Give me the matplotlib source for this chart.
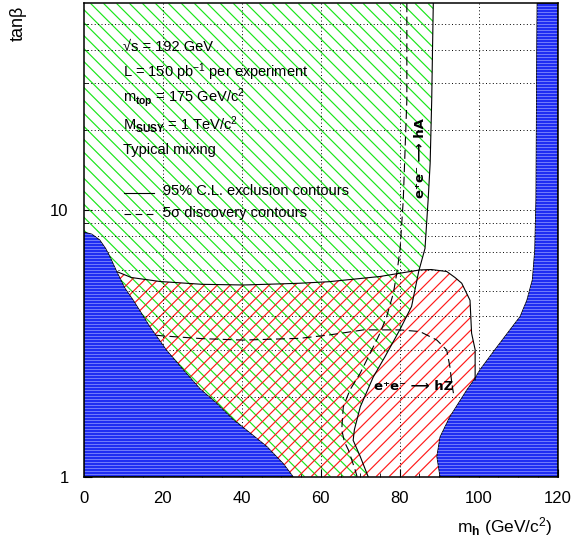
import numpy as np
import matplotlib
matplotlib.use("Agg")
import matplotlib.pyplot as plt
from matplotlib.patches import Polygon
from matplotlib.collections import LineCollection

plt.rcParams['font.family'] = ['Liberation Sans', 'DejaVu Sans']
plt.rcParams['mathtext.fontset'] = 'custom'
plt.rcParams['mathtext.rm'] = 'Liberation Sans'
plt.rcParams['mathtext.it'] = 'Liberation Sans:italic'
plt.rcParams['mathtext.bf'] = 'Liberation Sans:bold'
plt.rcParams['mathtext.sf'] = 'Liberation Sans'

# ---------------- data ----------------
# theoretically inaccessible region, left (blue)
blue_left_x = [0, 2, 4, 5.5, 6.6, 8.3, 10.4, 12.5, 16.7, 20.9, 25.2, 29.4, 33.6, 37.8, 42.1, 46.3, 50.5, 53.0]
blue_left_y = [8.3, 8.15, 7.75, 7.2, 6.7, 5.9, 5.1, 4.6, 3.66, 2.99, 2.52, 2.14, 1.89, 1.64, 1.46, 1.30, 1.12, 1.0]
# theoretically inaccessible region, right (blue), top -> bottom
blue_right_x = [114.8, 114.7, 114.6, 114.5, 114.2, 113.6, 112.2, 110.5, 107.9, 104.1, 100.3, 98.8, 97.0, 92.7, 90.2, 89.4, 90.2]
blue_right_y = [60, 40, 20, 11, 7.1, 5.5, 4.6, 4.0, 3.56, 3.0, 2.52, 2.31, 2.12, 1.68, 1.41, 1.19, 1.0]

# e+e- -> hA 95% CL exclusion contour (top -> bottom)
hA_excl_x = [88.5, 88.3, 88.1, 87.7, 87.2, 86.4, 84.8, 83.0, 80.0, 76.3, 73.3, 70.0, 68.5, 68.2, 70.0, 72.0]
hA_excl_y = [60, 40, 26, 15, 11, 7.2, 5.9, 4.36, 3.56, 2.83, 2.37, 1.83, 1.5, 1.37, 1.19, 1.0]
# e+e- -> hZ 95% CL exclusion contour (left -> right)
hZ_excl_x = [8.5, 12, 19.3, 30, 40.4, 49.7, 54.7, 62, 75, 85.1, 88.0, 91.9, 94.0, 95.7, 97.8, 98.2, 99.1, 99.1]
hZ_excl_y = [5.88, 5.6, 5.41, 5.28, 5.25, 5.3, 5.33, 5.4, 5.65, 5.98, 6.0, 5.9, 5.6, 5.33, 4.6, 3.46, 3.0, 2.31]

# 5 sigma discovery contours
hA_disc_x = [81.8, 81.8, 80.9, 80.1, 79.4, 78.4, 76.7, 75.0, 72.5, 70.0, 67.4, 65.7, 65.3, 66.0, 67.0, 68.7, 69.2]
hA_disc_y = [60, 26, 11, 7.2, 6.0, 4.9, 4.0, 3.46, 2.91, 2.45, 2.12, 1.83, 1.5, 1.35, 1.26, 1.06, 1.0]
hZ_disc_x = [18.3, 20, 30, 40.4, 54.7, 62.3, 70.8, 80.0, 85.1, 89.4, 91.9, 92.7, 93.2, 93.6]
hZ_disc_y = [3.4, 3.38, 3.3, 3.26, 3.31, 3.41, 3.56, 3.56, 3.51, 3.26, 2.99, 2.59, 2.24, 2.06]

x_ticks = [0, 20, 40, 60, 80, 100, 120]
y_ticks = [1, 10]
y_tick_labels = ['1', '10']
y_grid = [2, 3, 4, 5, 6, 7, 8, 9, 10, 20, 30, 40, 50]
x_grid = [20, 40, 60, 80, 100]

XMIN, XMAX, YMIN, YMAX = 0, 120, 1, 60

# ---------------- figure ----------------
fig = plt.figure(figsize=(5.75, 5.44), dpi=100)
ax = fig.add_axes([0.146, 0.1237, 0.8238, 0.8702])
ax.set_yscale('log')
ax.set_xlim(XMIN, XMAX)
ax.set_ylim(YMIN, YMAX)

GREEN = '#19e619'
RED = '#ff1a1a'
BLUE = '#1f2df2'


def hatch_region(xs, ys, color, direction, spacing=0.0274, lw=0.85, z=2):
    poly = Polygon(np.column_stack([xs, ys]), closed=True, facecolor='none',
                   edgecolor='none', transform=ax.transData)
    ax.add_patch(poly)
    cs = np.arange(-1.0, 1.0 + spacing, spacing)
    if direction == '/':
        segs = [[(c, 0), (c + 1, 1)] for c in cs]
    else:
        segs = [[(c, 1), (c + 1, 0)] for c in cs]
    lc = LineCollection(segs, colors=color, linewidths=lw, transform=ax.transAxes, zorder=z)
    lc.set_clip_path(poly)
    ax.add_collection(lc, autolim=False)


# green hA region
gx = [XMIN] + hA_excl_x + [XMIN]
gy = [YMAX] + hA_excl_y + [YMIN]
hatch_region(gx, gy, GREEN, '\\', z=2)

# red hZ region: top contour, down right blue edge, bottom, up left blue edge
i0 = blue_right_y.index(2.31)
rx = hZ_excl_x + blue_right_x[i0:] + blue_left_x[::-1][:-5]
ry = hZ_excl_y + blue_right_y[i0:] + blue_left_y[::-1][:-5]
hatch_region(rx, ry, RED, '/', z=2.1)

# grid (dotted)
for yv in y_grid:
    ax.axhline(yv, color='k', lw=0.7, ls=(0, (1, 2.5)), zorder=3)
for xv in x_grid:
    ax.axvline(xv, color='k', lw=0.7, ls=(0, (1, 2.5)), zorder=3)


def blue_region(xs, ys):
    poly = Polygon(np.column_stack([xs, ys]), closed=True, facecolor=BLUE,
                   edgecolor='k', lw=0.6, transform=ax.transData, zorder=5)
    ax.add_patch(poly)
    step = 3.0 / 473.4
    segs = [[(0, yy), (1, yy)] for yy in np.arange(0, 1, step)]
    lc = LineCollection(segs, colors='#a0a8ff', linewidths=0.45, transform=ax.transAxes, zorder=5.1)
    lc.set_clip_path(poly)
    ax.add_collection(lc, autolim=False)


blue_region(blue_left_x + [XMIN], blue_left_y + [YMIN])
blue_region(blue_right_x + [XMAX, XMAX], blue_right_y + [YMIN, YMAX])

# contours
ax.plot(hA_excl_x, hA_excl_y, color='k', lw=0.8, zorder=6)
ax.plot(hZ_excl_x, hZ_excl_y, color='k', lw=0.8, zorder=6)
ax.plot(hA_disc_x, hA_disc_y, color='k', lw=0.8, ls=(0, (8, 4)), zorder=6)
ax.plot(hZ_disc_x, hZ_disc_y, color='k', lw=0.8, ls=(0, (8, 4)), zorder=6)

# axes styling
for s in ax.spines.values():
    s.set_linewidth(1.1)
    s.set_zorder(10)
ax.set_xticks(x_ticks)
ax.set_xticks(np.arange(0, 121, 5), minor=True)
ax.set_yticks(y_ticks)
ax.set_yticklabels(y_tick_labels)
ax.set_yticks(y_grid[:8] + y_grid[9:], minor=True)
ax.yaxis.set_minor_formatter(matplotlib.ticker.NullFormatter())
ax.tick_params(which='major', direction='in', length=6, width=0.8, labelsize=12)
ax.tick_params(which='minor', direction='in', length=3, width=0.6)
ax.tick_params(axis='x', which='major', pad=10)
ax.tick_params(axis='y', which='major', pad=11)

# text
tx = 0.0823
fs = 10.5
ax.text(tx, 0.9077, '√s = 192 GeV', transform=ax.transAxes, fontsize=fs, va='center', zorder=8)
ax.text(tx, 0.8549, 'L = 150 pb$^{-1}$ per experiment', transform=ax.transAxes, fontsize=fs, va='center', zorder=8)
ax.text(tx, 0.8000, 'm$_{\\mathbf{top}}$ = 175 GeV/c$^{2}$', transform=ax.transAxes, fontsize=fs, va='center', zorder=8)
ax.text(tx, 0.7430, 'M$_{\\mathbf{SUSY}}$ = 1 TeV/c$^{2}$', transform=ax.transAxes, fontsize=fs, va='center', zorder=8)
ax.text(tx, 0.6900, 'Typical mixing', transform=ax.transAxes, fontsize=fs, va='center', zorder=8)

ax.plot([0.0844, 0.148], [0.599, 0.599], transform=ax.transAxes, color='k', lw=0.8, zorder=8)
ax.plot([0.0844, 0.148], [0.556, 0.556], transform=ax.transAxes, color='k', lw=0.8,
        ls=(0, (6, 4)), zorder=8)
ax.text(0.1668, 0.603, '95% C.L. exclusion contours', transform=ax.transAxes, fontsize=fs, va='center', zorder=8)
ax.text(0.1668, 0.558, '5σ discovery contours', transform=ax.transAxes, fontsize=fs, va='center', zorder=8)

ax.text(83.4, 2.18, 'e⁺e⁻ ⟶ hZ', fontsize=9.5, fontweight='bold', ha='center', va='center',
        family=['DejaVu Sans'], zorder=8)
ax.text(85.2, 15.8, 'e⁺e⁻ ⟶ hA', fontsize=9.5, fontweight='bold', ha='center', va='center',
        rotation=90, family=['DejaVu Sans'], zorder=8)

fig.text(18 / 575, 1 - 23 / 544, 'tanβ', rotation=90, ha='center', va='center', fontsize=13)
fig.text(553 / 575, 1 - 527 / 544, 'm$_{\\mathbf{h}}$ (GeV/c$^{2}$)', ha='right', va='center', fontsize=12.5)

fig.savefig('out.png', dpi=100)
